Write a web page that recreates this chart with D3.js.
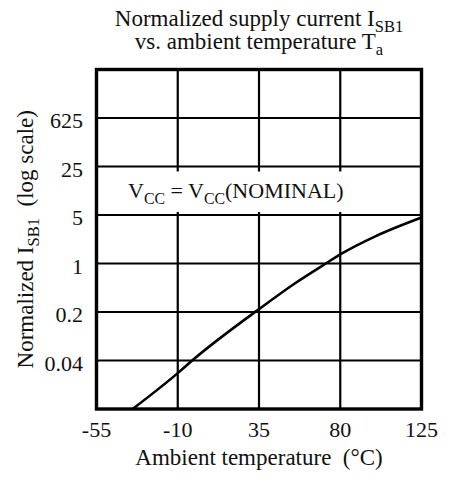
<!DOCTYPE html>
<html>
<head>
<meta charset="utf-8">
<script src="https://cdn.jsdelivr.net/npm/d3@7"></script>
<style>
  body { margin: 0; background: #fff; }
  text { font-family: "Liberation Serif", "DejaVu Serif", serif; fill: #111; }
</style>
</head>
<body>
<script>
// curve: temperature (°C) vs normalized I_SB1
const temps = [-35, -10, -2, 35, 55, 72, 80, 100, 125];
const current = [0.008, 0.0263, 0.04, 0.22, 0.52, 1.0, 1.35, 2.5, 4.6];
const xTicks = [-55, -10, 35, 80, 125];
// grid rows are evenly spaced on a base-5 log scale; labels as printed
const yTickValues = [125, 25, 5, 1, 0.2, 0.04];
const yTickLabels = ["625", "25", "5", "1", "0.2", "0.04"];

const width = 456;
const height = 482;
const margin = { top: 69.5, right: 34.5, bottom: 73, left: 96.5 };

const svg = d3.select("body")
    .append("svg")
    .attr("width", width)
    .attr("height", height);

const x = d3.scaleLinear()
    .domain([-55, 125])
    .range([margin.left, width - margin.right]);

const y = d3.scaleLog()
    .base(5)
    .domain([0.008, 625])
    .range([height - margin.bottom, margin.top]);

// grid
const grid = svg.append("g")
    .attr("stroke", "#000")
    .attr("stroke-width", 2.2);

grid.selectAll(".vx")
    .data(xTicks.slice(1, -1))
    .enter()
    .append("line")
    .attr("x1", d => x(d))
    .attr("x2", d => x(d))
    .attr("y1", margin.top)
    .attr("y2", height - margin.bottom);

grid.selectAll(".hy")
    .data(yTickValues)
    .enter()
    .append("line")
    .attr("x1", margin.left)
    .attr("x2", width - margin.right)
    .attr("y1", d => y(d))
    .attr("y2", d => y(d));

// white band behind the condition text
svg.append("rect")
    .attr("x", margin.left + 2)
    .attr("y", y(25) + 5)
    .attr("width", width - margin.right - margin.left - 4)
    .attr("height", y(5) - y(25) - 8)
    .attr("fill", "#fff");

// curve
svg.append("clipPath").attr("id", "plot")
    .append("rect")
    .attr("x", margin.left)
    .attr("y", margin.top)
    .attr("width", width - margin.right - margin.left)
    .attr("height", height - margin.bottom - margin.top);

const line = d3.line()
    .x(d => x(d[0]))
    .y(d => y(d[1]))
    .curve(d3.curveMonotoneX);

svg.append("path")
    .datum(d3.zip(temps, current))
    .attr("clip-path", "url(#plot)")
    .attr("d", line)
    .attr("fill", "none")
    .attr("stroke", "#000")
    .attr("stroke-width", 2.6);

// frame
svg.append("rect")
    .attr("x", margin.left)
    .attr("y", margin.top)
    .attr("width", width - margin.right - margin.left)
    .attr("height", height - margin.bottom - margin.top)
    .attr("fill", "none")
    .attr("stroke", "#000")
    .attr("stroke-width", 3.4);

// tick labels
svg.selectAll(".xt")
    .data(xTicks)
    .enter()
    .append("text")
    .attr("x", d => x(d))
    .attr("y", height - margin.bottom + 28)
    .attr("text-anchor", "middle")
    .attr("font-size", 22)
    .text(d => d);

svg.selectAll(".yt")
    .data(yTickValues)
    .enter()
    .append("text")
    .attr("x", 83)
    .attr("y", d => y(d) + 10)
    .attr("text-anchor", "end")
    .attr("font-size", 22)
    .text((d, i) => yTickLabels[i]);

// helper for text with subscripts: parts = [[text, isSub], ...]
function richText(sel, parts, size) {
    let shifted = false;
    parts.forEach(([t, sub]) => {
        const ts = sel.append("tspan").text(t);
        if (sub) {
            ts.attr("font-size", size * 0.72);
            if (!shifted) { ts.attr("dy", size * 0.25); shifted = true; }
        } else if (shifted) {
            ts.attr("dy", -size * 0.25);
            shifted = false;
        }
    });
}

// title
const cx = (margin.left + width - margin.right) / 2;
richText(svg.append("text").attr("x", cx).attr("y", 26)
    .attr("text-anchor", "middle").attr("font-size", 23),
    [["Normalized supply current I", false], ["SB1", true]], 23);
richText(svg.append("text").attr("x", cx).attr("y", 49)
    .attr("text-anchor", "middle").attr("font-size", 23),
    [["vs. ambient temperature T", false], ["a", true]], 23);

// axis titles
svg.append("text")
    .attr("x", cx)
    .attr("y", 465)
    .attr("text-anchor", "middle")
    .attr("font-size", 23)
    .text("Ambient temperature\u00a0\u00a0(°C)");

richText(svg.append("text")
    .attr("transform", `translate(33,${(margin.top + height - margin.bottom) / 2}) rotate(-90)`)
    .attr("text-anchor", "middle")
    .attr("font-size", 23),
    [["Normalized I", false], ["SB1", true], ["\u00a0\u00a0(log scale)", false]], 23);

// condition label
richText(svg.append("text").attr("x", 128).attr("y", 198)
    .attr("font-size", 22),
    [["V", false], ["CC", true], [" = V", false], ["CC", true], ["(NOMINAL)", false]], 22);
</script>
</body>
</html>
